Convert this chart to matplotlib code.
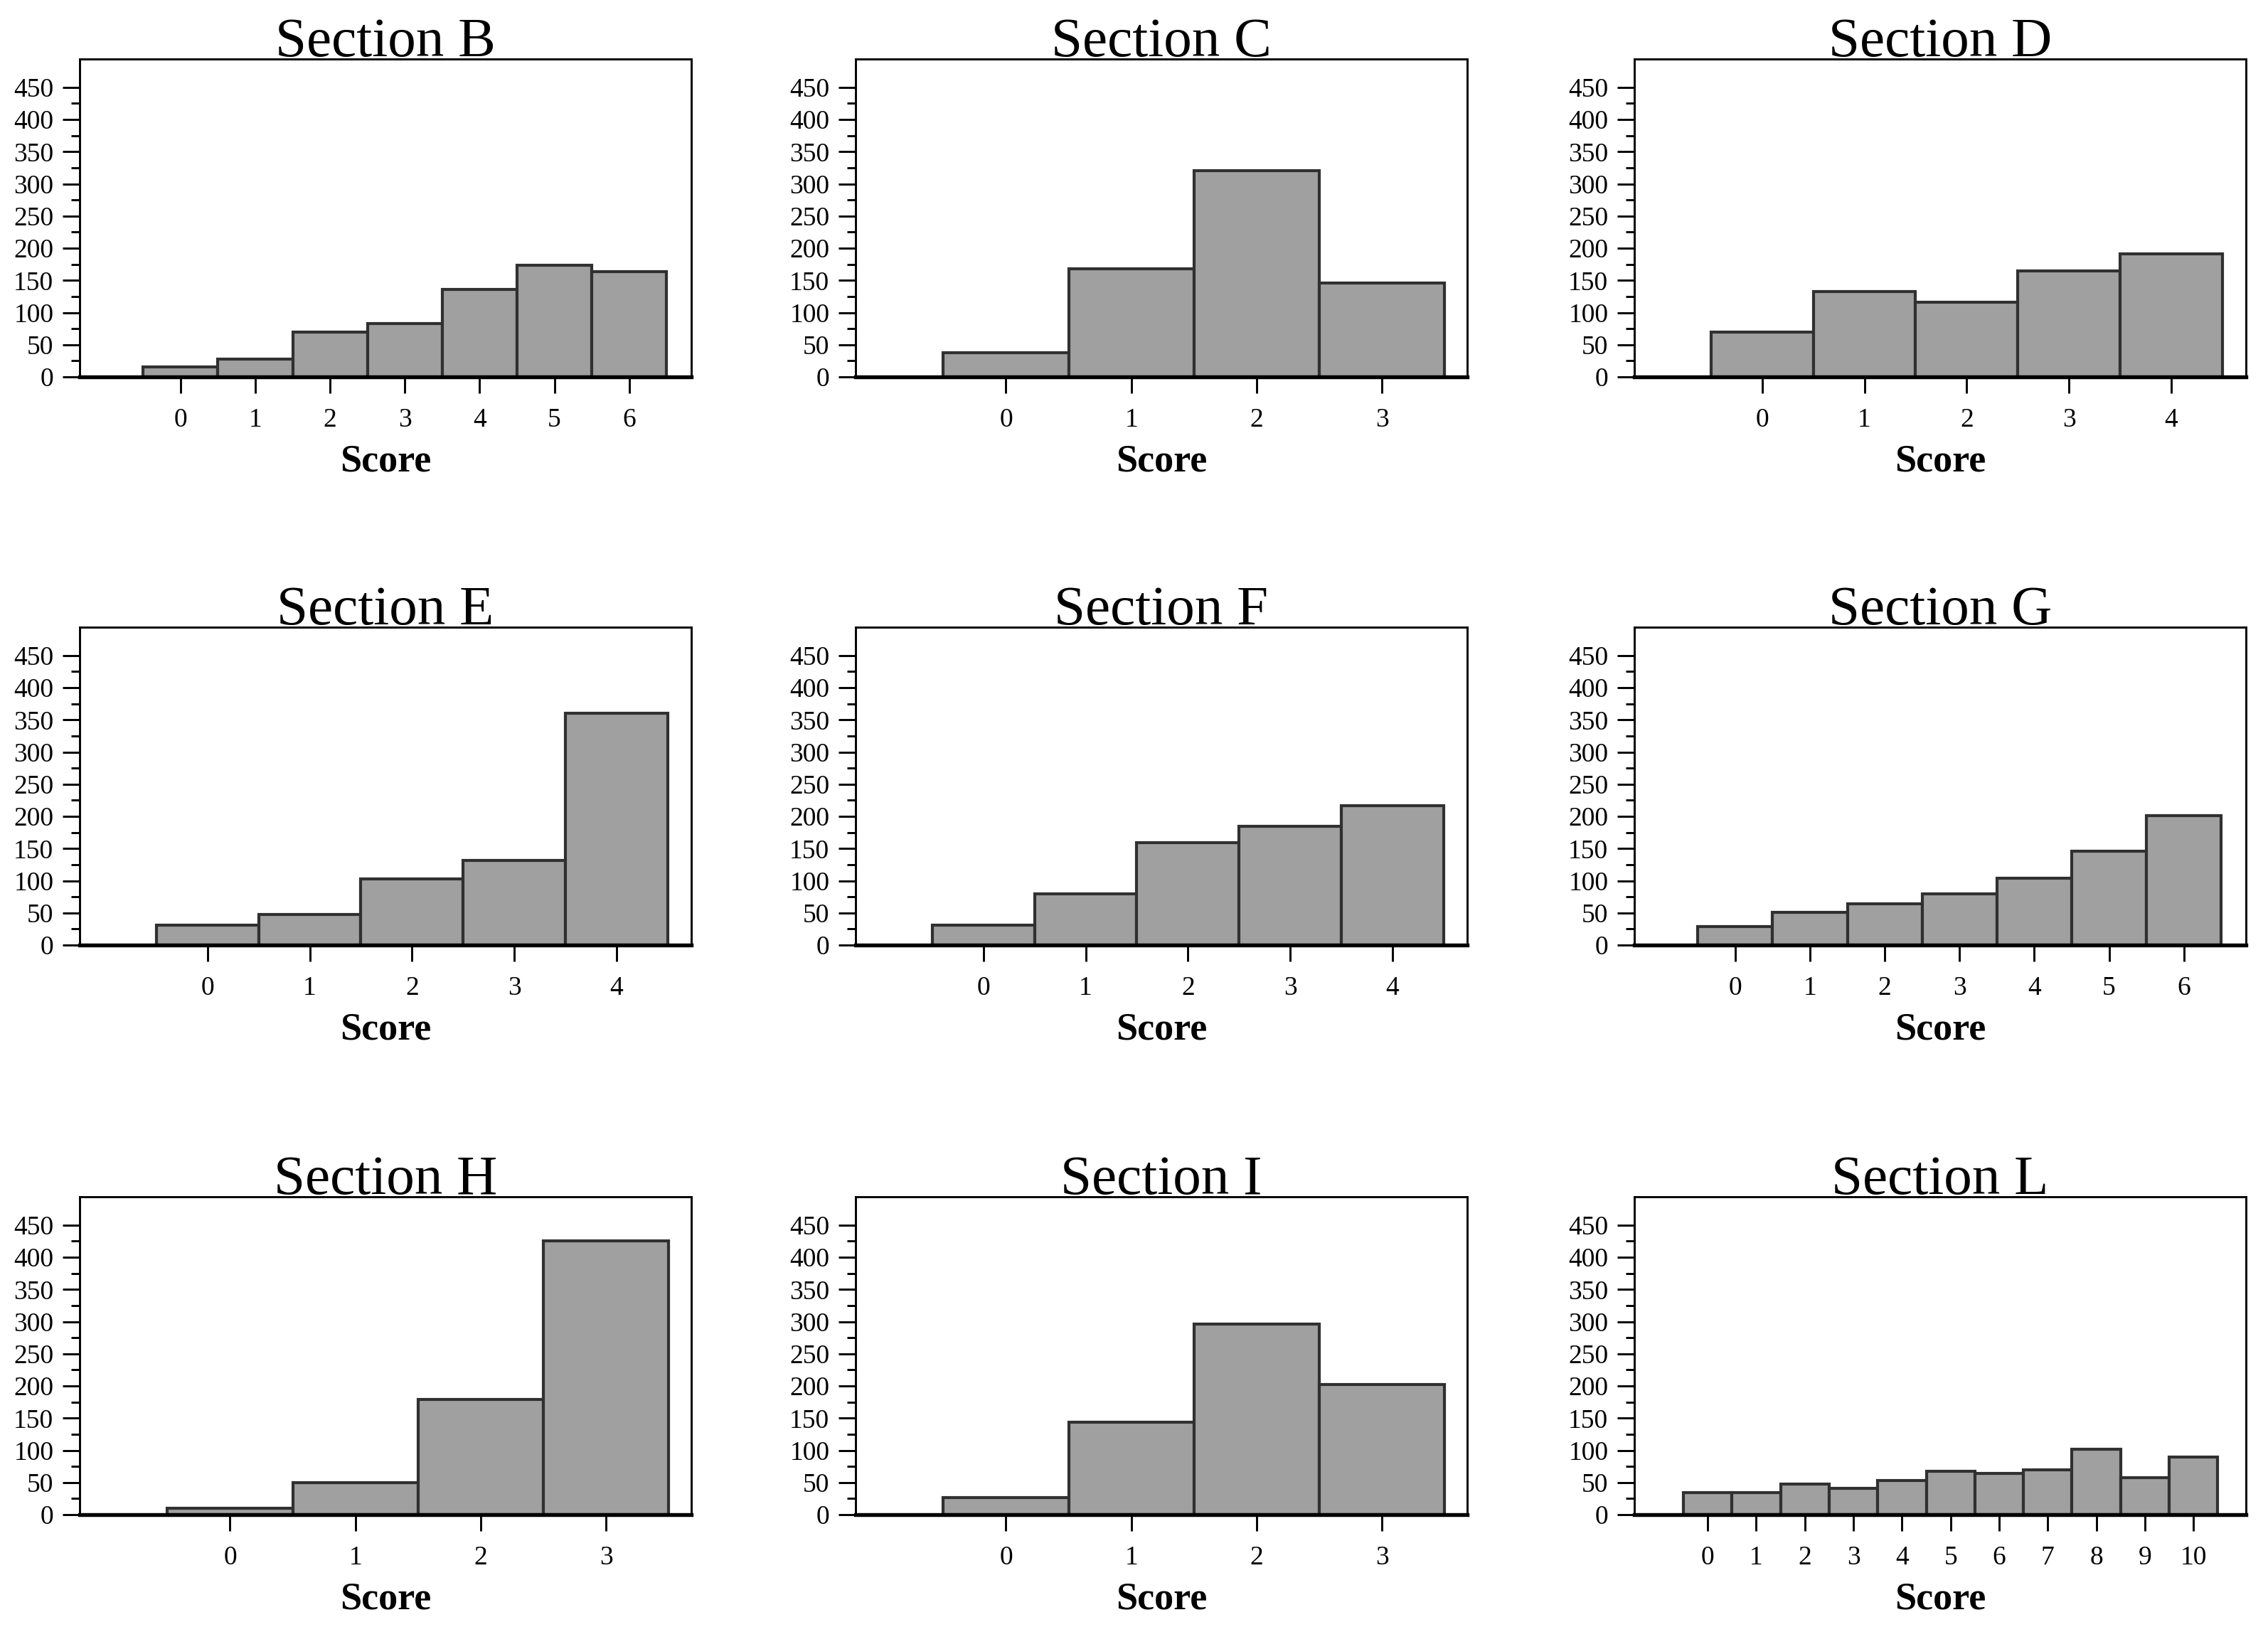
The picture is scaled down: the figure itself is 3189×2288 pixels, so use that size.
import numpy as np
from matplotlib import pyplot as plt

# counts per score
sections = ['B', 'C', 'D', 'E', 'F', 'G', 'H', 'I', 'L']
counts_b = [15, 28, 70, 83, 136, 174, 164]
counts_c = [38, 168, 320, 146]
counts_d = [70, 133, 116, 165, 191]
counts_e = [31, 48, 103, 132, 360]
counts_f = [31, 80, 159, 185, 217]
counts_g = [29, 51, 64, 80, 104, 146, 201]
counts_h = [10, 50, 179, 425]
counts_i = [27, 144, 296, 202]
counts_l = [34, 34, 47, 41, 53, 67, 64, 70, 102, 57, 89]
all_counts = [counts_b, counts_c, counts_d, counts_e, counts_f,
              counts_g, counts_h, counts_i, counts_l]

y_major = np.arange(0, 451, 50)
y_minor = np.arange(25, 450, 50)

# x padding (left, right) beyond the bars, depends on number of bins
x_pad = {4: (0.70, 0.18), 5: (0.75, 0.23), 7: (0.85, 0.33), 11: (1.01, 0.58)}

W, H = 3189, 2288
fig = plt.figure(figsize=(W / 300, H / 300), dpi=300)
plt.rcParams['font.family'] = ['Liberation Serif', 'DejaVu Serif']

col_left = [112, 1203, 2298]
row_bottom = [530, 1329, 2130]
ax_w, ax_h = 860, 447

for i, (name, counts) in enumerate(zip(sections, all_counts)):
    r, c = divmod(i, 3)
    ax = fig.add_axes([col_left[c] / W, 1 - row_bottom[r] / H, ax_w / W, ax_h / H])
    scores = np.arange(len(counts))
    ax.bar(scores, counts, width=1.0, color='#a0a0a0', edgecolor='#303030',
           linewidth=1.0, zorder=2)
    pl, pr = x_pad[len(counts)]
    ax.set_xlim(-0.5 - pl, len(counts) - 0.5 + pr)
    ax.set_ylim(0, 494)
    ax.set_xticks(scores)
    ax.set_xticklabels([str(s) for s in scores])
    ax.set_yticks(y_major)
    ax.set_yticks(y_minor, minor=True)
    ax.tick_params(axis='y', which='major', length=5.8, width=0.7,
                   labelsize=9, pad=3)
    ax.tick_params(axis='y', which='minor', length=2.9, width=0.7)
    ax.tick_params(axis='x', which='major', length=5.5, width=0.7,
                   labelsize=9, pad=5)
    for side in ['top', 'right', 'left']:
        ax.spines[side].set_linewidth(0.7)
    ax.spines['bottom'].set_linewidth(1.3)
    ax.spines['bottom'].set_zorder(3)
    # explicit y turns off automatic title placement
    ax.set_title('Section ' + name, fontsize=19, y=1.0, pad=1)
    ax.set_xlabel('Score', fontsize=13, fontweight='bold', labelpad=4)

fig.savefig('out.png', dpi=300)
